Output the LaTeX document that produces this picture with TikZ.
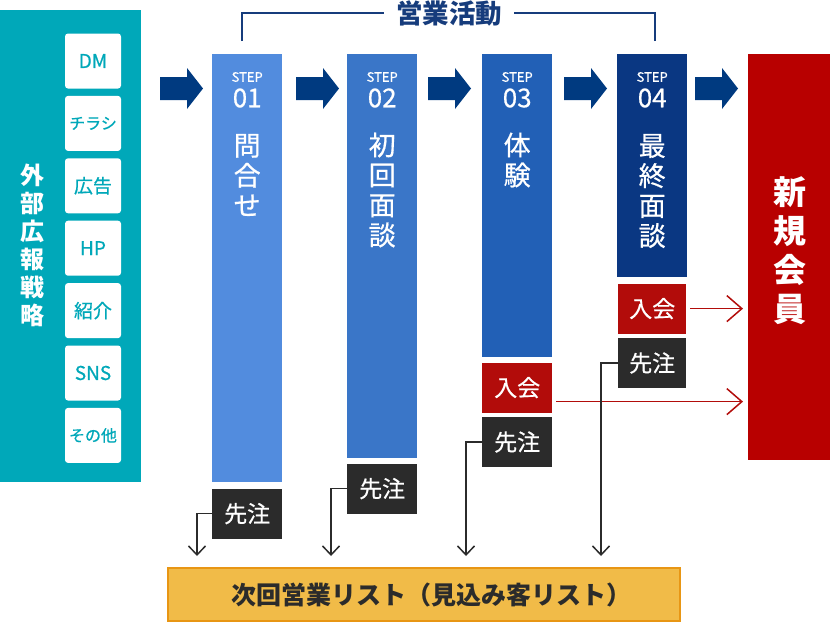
\documentclass[tikz,border=0pt]{standalone}
\usepackage{fontspec}
\setmainfont{Noto Sans CJK JP}
\newfontfamily\medfont{Noto Sans CJK JP}[FakeBold=0.6]
\usepackage{xcolor}
\usetikzlibrary{arrows.meta,positioning,calc}

\definecolor{teal1}{RGB}{0,168,185}
\definecolor{step1}{RGB}{82,140,222}
\definecolor{step2}{RGB}{58,118,200}
\definecolor{step3}{RGB}{34,96,182}
\definecolor{step4}{RGB}{10,55,130}
\definecolor{navy1}{RGB}{0,58,128}
\definecolor{lineblue}{RGB}{22,60,124}
\definecolor{red1}{RGB}{184,0,0}
\definecolor{red2}{RGB}{178,12,10}
\definecolor{dark1}{RGB}{43,43,43}
\definecolor{orange1}{RGB}{241,187,72}
\definecolor{orange2}{RGB}{232,150,20}

\begin{document}
\begin{tikzpicture}[
  x=1pt,y=-1pt,
  col/.style={anchor=north west,inner sep=0,minimum width=70pt},
  tile/.style={fill=white,rounded corners=3pt,minimum width=56pt,minimum height=55pt,inner sep=0,text=teal1,font=\medfont\fontsize{19}{22}\selectfont},
  vtext/.style={text=white,align=center,inner sep=0,font=\medfont\fontsize{27}{30}\selectfont},
  steptag/.style={text=white,inner sep=0,font=\medfont\fontsize{13}{15}\selectfont},
  stepnum/.style={text=white,inner sep=0,font=\medfont\fontsize{26}{28}\selectfont},
  result/.style={minimum width=70pt,minimum height=50pt,inner sep=0,text=white,font=\medfont\fontsize{23}{26}\selectfont},
  joinarrow/.style={red2,line width=1.5pt,-{Straight Barb[length=15pt,width=26pt]},shorten <=4pt,shorten >=5pt},
  lostarrow/.style={dark1,line width=1.5pt,-{Straight Barb[length=9pt,width=17pt]}}
]
\useasboundingbox (0,0) rectangle (830,625);

% external promotion
\node[anchor=north west,fill=teal1,inner sep=0,minimum width=141pt,minimum height=472pt] (panel) at (0,10) {};
\node[vtext,font=\bfseries\fontsize{24}{28}\selectfont] (gaibu) at (32,245) {外\\部\\広\\報\\戦\\略};
\node[tile] (dm) at (93,61) {DM};
\node[tile,below=7pt of dm,font=\medfont\fontsize{16}{18}\selectfont] (chirashi) {チラシ};
\node[tile,below=7pt of chirashi] (koukoku) {広告};
\node[tile,below=7pt of koukoku] (hp) {HP};
\node[tile,below=7pt of hp] (shoukai) {紹介};
\node[tile,below=7pt of shoukai] (sns) {SNS};
\node[tile,below=7pt of sns,font=\medfont\fontsize{16}{18}\selectfont] (sonota) {その他};

% steps
\node[col,fill=step1,minimum height=428pt] (s1) at (212,54) {};
\node[col,fill=step2,minimum height=404pt] (s2) at (347,54) {};
\node[col,fill=step3,minimum height=303pt] (s3) at (482,54) {};
\node[col,fill=step4,minimum height=223pt] (s4) at (617,54) {};
\node[col,fill=red1,minimum width=82pt,minimum height=406pt] (shinki) at (748,54) {};

\node[steptag] at ($(s1.north)+(0,23)$) {STEP};
\node[stepnum] at ($(s1.north)+(0,44)$) {01};
\node[vtext] at ($(s1.north)+(0,121)$) {問\\合\\せ};
\node[steptag] at ($(s2.north)+(0,23)$) {STEP};
\node[stepnum] at ($(s2.north)+(0,44)$) {02};
\node[vtext] at ($(s2.north)+(0,136)$) {初\\回\\面\\談};
\node[steptag] at ($(s3.north)+(0,23)$) {STEP};
\node[stepnum] at ($(s3.north)+(0,44)$) {03};
\node[vtext] at ($(s3.north)+(0,106)$) {体\\験};
\node[steptag] at ($(s4.north)+(0,23)$) {STEP};
\node[stepnum] at ($(s4.north)+(0,44)$) {04};
\node[vtext] at ($(s4.north)+(0,137)$) {最\\終\\面\\談};
\node[vtext,font=\bfseries\fontsize{33}{39}\selectfont] (kaiin) at (790,251) {新\\規\\会\\員};

% block arrows
\foreach \x in {160,296,428,564,695}
  \fill[navy1] (\x,77) -- ++(27,0) -- ++(0,-9) -- ++(16,20.5) -- ++(-16,20.5) -- ++(0,-9) -- ++(-27,0) -- cycle;

% sales bracket
\node[text=lineblue,inner xsep=12pt,inner ysep=0,font=\bfseries\fontsize{26.5}{28}\selectfont] (eigyo) at (449,13) {営業活動};
\coordinate (bl) at (242,41);
\coordinate (br) at (655,41);
\draw[lineblue,line width=1.5pt] (bl) |- (eigyo.west);
\draw[lineblue,line width=1.5pt] (br) |- (eigyo.east);

% outcomes
\node[result,fill=dark1,below=6pt of s1] (sc1) {先注};
\node[result,fill=dark1,below=5pt of s2] (sc2) {先注};
\node[result,fill=red2,below=5pt of s3] (ny3) {入会};
\node[result,fill=dark1,below=4pt of ny3] (sc3) {先注};
\node[result,fill=red2,below=6pt of s4,minimum width=68pt] (ny4) {入会};
\node[result,fill=dark1,below=4pt of ny4,minimum width=68pt] (sc4) {先注};

\node[fill=orange1,draw=orange2,line width=2pt,minimum width=512pt,minimum height=53pt,inner sep=0,text=dark1,font=\bfseries\fontsize{25}{28}\selectfont] (list) at (424,594.5) {\hspace*{14pt}次回営業リスト（見込み客リスト）};

\draw[joinarrow] (ny4.east) -- (ny4.east -| shinki.west);
\draw[joinarrow] ([yshift=-14pt]ny3.east) -- ([yshift=-14pt]ny3.east -| shinki.west);

\coordinate (l1) at (197,556);
\coordinate (l2) at (331,556);
\coordinate (l3) at (466,556);
\coordinate (l4) at (601,556);
\draw[lostarrow] (sc1.west) -| (l1);
\draw[lostarrow] (sc2.west) -| (l2);
\draw[lostarrow] (sc3.west) -| (l3);
\draw[lostarrow] (sc4.west) -| (l4);
\end{tikzpicture}
\end{document}
